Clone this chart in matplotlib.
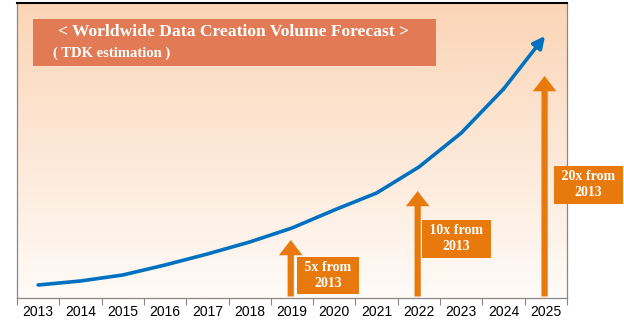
import numpy as np
import matplotlib
matplotlib.use('Agg')
from matplotlib import pyplot as plt
from matplotlib.colors import LinearSegmentedColormap
from matplotlib.patches import Rectangle

# data (arbitrary volume units)
years = ['2013', '2014', '2015', '2016', '2017', '2018', '2019',
         '2020', '2021', '2022', '2023', '2024', '2025']
volume = [13, 17, 23, 33, 44, 56, 70, 88, 105, 131, 165, 209, 262]

# growth markers
marker_years = ['2019', '2022', '2025']
marker_tops = [58, 107, 222]
marker_labels = [' 5x from \n2013', ' 10x from \n2013', ' 20x from \n2013']
label_pos = [(6.85, 22.5), (9.89, 59), (13.0, 113)]

title_1 = '< Worldwide Data Creation Volume Forecast >'
title_2 = '( TDK estimation )'

blue = '#0070C0'
orange = '#E8790C'
title_bg = '#E27A55'

fig = plt.figure(figsize=(6.24, 3.22), dpi=100, facecolor='w')
ax = fig.add_axes([17/624, 24/322, 550/624, 295/322])

x = np.arange(len(years))
ax.set_xlim(-0.5, len(years) - 0.5)
ax.set_ylim(0, 295)

# peach gradient background
cmap = LinearSegmentedColormap.from_list('peach', ['#FFFBF8', '#FBD5B6'])
grad = np.linspace(0, 1, 256).reshape(-1, 1)
ax.imshow(grad, extent=[-0.5, len(years) - 0.5, 0, 295], origin='lower',
          aspect='auto', cmap=cmap, zorder=0)

# forecast curve with an arrow head on the last point
ax.plot(x[:-1], volume[:-1], color=blue, lw=2.6, solid_capstyle='round', zorder=3)
ax.annotate('', xy=(x[-1] - 0.02, volume[-1]), xytext=(x[-2], volume[-2]),
            arrowprops=dict(arrowstyle='-|>,head_length=0.7,head_width=0.35',
                            color=blue, lw=2.6, shrinkA=0, shrinkB=0), zorder=3)

# orange growth arrows + labels
for yr, top, lab, (lx, ly) in zip(marker_years, marker_tops, marker_labels, label_pos):
    xi = years.index(yr)
    ax.annotate('', xy=(xi - 0.03, top), xytext=(xi - 0.03, 1.5),
                arrowprops=dict(arrowstyle='simple,head_length=1.1,head_width=1.7,tail_width=0.45',
                                color=orange, lw=0, shrinkA=0, shrinkB=0), zorder=4)
    ax.text(lx, ly, lab, ha='center', va='center', color='white', fontsize=10,
            fontweight='bold', family='Liberation Serif', linespacing=1.3,
            bbox=dict(boxstyle='square,pad=0.3', fc=orange, ec='none'),
            clip_on=False, zorder=5)

# title box
ax.add_patch(Rectangle((16/550, 232/295), 403/550, 47/295, transform=ax.transAxes,
                       fc=title_bg, ec='none', zorder=2))
ax.text(41/550, 266/295, title_1, transform=ax.transAxes, ha='left', va='center',
        color='white', fontsize=12.6, fontweight='bold', family='Liberation Serif')
ax.text(36/550, 245/295, title_2, transform=ax.transAxes, ha='left', va='center',
        color='white', fontsize=10.5, fontweight='bold', family='Liberation Serif')

# axes styling
ax.set_yticks([])
ax.set_xticks(x)
ax.set_xticklabels(years, fontsize=10, family='Liberation Sans')
ax.set_xticks(np.arange(-0.5, len(years)), minor=True)
ax.tick_params(axis='x', which='major', length=0, pad=5)
ax.tick_params(axis='x', which='minor', length=5, color='#888888', width=0.8)
for side in ['left', 'right', 'bottom']:
    ax.spines[side].set_color('#888888')
    ax.spines[side].set_linewidth(0.9)
ax.spines['top'].set_color('black')
ax.spines['top'].set_linewidth(1.5)

plt.savefig('out.png', dpi=100)
